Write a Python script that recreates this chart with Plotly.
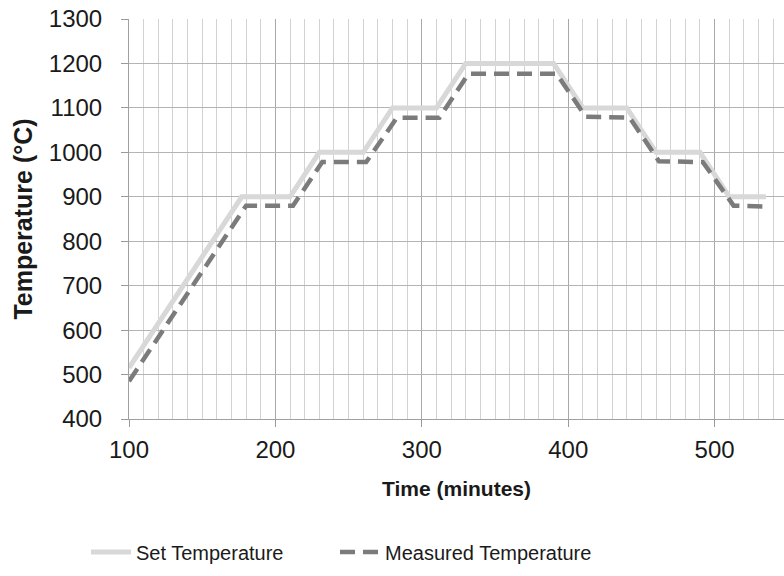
import plotly.graph_objects as go

# Data
set_time = [100, 177, 210, 230, 260, 280, 310, 330, 390, 410, 440, 460, 490, 510, 535]
set_temp = [515, 900, 900, 1000, 1000, 1100, 1100, 1200, 1200, 1100, 1100, 1000, 1000, 900, 900]

meas_time = [100, 180, 212, 232, 262, 283, 312, 332, 392, 412, 442, 462, 492, 513, 536]
meas_temp = [485, 880, 880, 978, 978, 1078, 1078, 1177, 1177, 1080, 1078, 980, 978, 880, 878]

x_ticks = [100, 200, 300, 400, 500]
y_ticks = [400, 500, 600, 700, 800, 900, 1000, 1100, 1200, 1300]

FONT = "Liberation Sans, Arial, Helvetica, sans-serif"
TXT = "#1a1a1a"

ML, MT, MB = 129, 19, 157
PW = 784 - ML
PH = 576 - MT - MB

fig = go.Figure()
fig.add_trace(go.Scatter(
    x=set_time, y=set_temp, mode="lines", name="Set Temperature",
    line=dict(color="#d8d8d8", width=5),
))
fig.add_trace(go.Scatter(
    x=meas_time, y=meas_temp, mode="lines", name="Measured Temperature",
    line=dict(color="#7b7b7b", width=4.5, dash="15px,8px"), legend="legend2",
))

def leg(xpx):
    return dict(
        orientation="h", xref="paper", yref="paper",
        x=(xpx - ML) / PW, xanchor="left",
        y=((MT + PH) - 552) / PH, yanchor="middle",
        font=dict(size=20, family=FONT, color=TXT), itemwidth=40,
        bgcolor="rgba(255,255,255,0)",
    )

fig.update_layout(
    width=784, height=576,
    margin=dict(l=ML, r=0, t=MT, b=MB, autoexpand=False),
    paper_bgcolor="white", plot_bgcolor="white",
    font=dict(family=FONT, color=TXT, size=20),
    showlegend=True,
    legend=leg(86),
    legend2=leg(335),
    xaxis=dict(
        range=[100, 100 + PW / 1.464], tickvals=x_ticks, automargin=False,
        tickfont=dict(size=24, family=FONT, color=TXT),
        ticks="outside", ticklen=7, tickcolor="#9a9a9a",
        showgrid=True, gridcolor="#a8a8a8", gridwidth=1,
        minor=dict(dtick=10, showgrid=True, gridcolor="#d2d2d2", gridwidth=1),
        showline=True, linecolor="#a0a0a0", linewidth=1,
        zeroline=False, ticklabelstandoff=2, ticklabeloverflow="allow",
        title=dict(text="<b>Time (minutes)</b>", font=dict(size=21, family=FONT, color=TXT), standoff=19),
    ),
    yaxis=dict(
        range=[400, 1300], tickvals=y_ticks, automargin=False,
        tickfont=dict(size=24, family=FONT, color=TXT),
        ticks="outside", ticklen=7, tickcolor="#9a9a9a",
        showgrid=True, gridcolor="#b4b4b4", gridwidth=1,
        showline=True, linecolor="#a0a0a0", linewidth=1,
        zeroline=False, ticklabelstandoff=14, ticklabeloverflow="allow",
        title=dict(text="<b>Temperature (°C)</b>", font=dict(size=25, family=FONT, color=TXT), standoff=9),
    ),
)

fig.write_html("out.html", config={"displayModeBar": False},
               post_script="document.body.style.margin='0';")
